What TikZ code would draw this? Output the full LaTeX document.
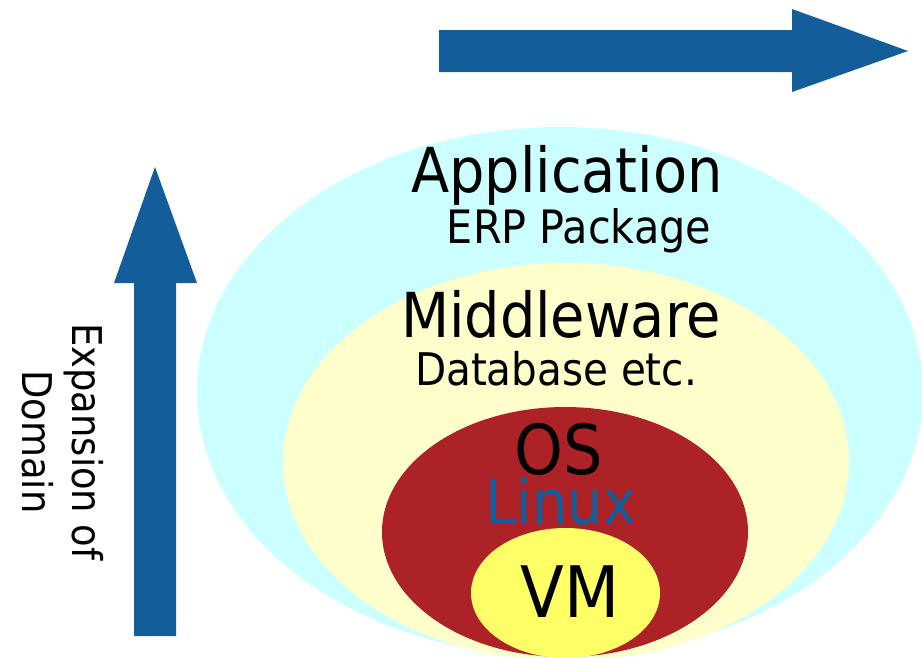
\documentclass[tikz,border=0pt]{standalone}
\usepackage{fontspec}
\setmainfont{DejaVu Sans Condensed}
\definecolor{arrowblue}{HTML}{135E9A}
\definecolor{appcyan}{HTML}{CCFFFF}
\definecolor{midyellow}{HTML}{FFFFCC}
\definecolor{osred}{HTML}{AD2226}
\definecolor{vmyellow}{HTML}{FFFF66}
\tikzset{
  bigarrow/.style={fill=arrowblue, draw=none},
  lbl/.style={inner sep=0pt, anchor=base, text=black},
}
\newcommand{\fsz}[1]{\fontsize{#1}{#1}\selectfont}
\begin{document}
\begin{tikzpicture}[x=1pt, y=-1pt]
\useasboundingbox (0,0) rectangle (922,657);
% layers
\fill[appcyan] (560,392) ellipse [x radius=363, y radius=265];
\fill[midyellow] (566,462) ellipse [x radius=283, y radius=199];
\fill[osred] (565,532) ellipse [x radius=183, y radius=125];
\fill[vmyellow] (565.5,593) ellipse [x radius=94.5, y radius=65];
% arrows
\fill[bigarrow] (439,30) -- (792,30) -- (792,9) -- (908,51) -- (792,92) -- (792,72) -- (439,72) -- cycle;
\fill[bigarrow] (134,636) -- (134,283) -- (114,283) -- (155,167) -- (197,283) -- (176,283) -- (176,636) -- cycle;
% labels
\node[lbl, font=\fsz{62}] (app) at (567,192) {Application};
\node[lbl, font=\fsz{46}] (erp) at (579,243) {ERP Package};
\node[lbl, font=\fsz{62}] (mid) at (561,337) {Middleware};
\node[lbl, font=\fsz{45}] (db) at (556,385) {Database etc.};
\node[lbl, font=\fsz{69}] (os) at (559,474) {OS};
\node[lbl, font=\fsz{62}, text=arrowblue] (linux) at (561,524) {Linux};
\node[lbl, font=\fsz{71}] (vm) at (570,617) {VM};
\node[lbl, font=\fsz{41}, rotate=-90] (exp1) at (72,442) {Expansion of};
\node[lbl, font=\fsz{41}, rotate=-90] (exp2) at (22,442) {Domain};
\end{tikzpicture}
\end{document}
